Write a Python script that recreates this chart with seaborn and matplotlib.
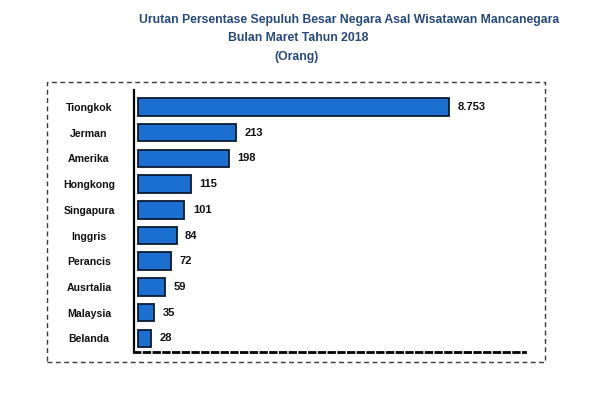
import numpy as np
import pandas as pd
import matplotlib
matplotlib.use("Agg")
import matplotlib.pyplot as plt
from matplotlib.patches import Rectangle
import seaborn as sns

countries = ["Tiongkok", "Jerman", "Amerika", "Hongkong", "Singapura",
             "Inggris", "Perancis", "Ausrtalia", "Malaysia", "Belanda"]
visitors = [8753, 213, 198, 115, 101, 84, 72, 59, 35, 28]
title_lines = ["Urutan Persentase Sepuluh Besar Negara Asal Wisatawan Mancanegara",
               "Bulan Maret Tahun 2018",
               "(Orang)"]

df = pd.DataFrame({"negara": countries, "orang": visitors})

sns.set_theme(style="white")
plt.rcParams["font.family"] = ["Liberation Sans", "DejaVu Sans"]

W, H = 600, 400
fig = plt.figure(figsize=(6, 4), dpi=100)
fig.patch.set_facecolor("white")
ax = fig.add_axes([134 / W, 48 / H, 391 / W, 262 / H])

sns.barplot(data=df, y="negara", x="orang", orient="h", color="#1b6fd0",
            saturation=1, edgecolor="#081a33", linewidth=1.3, width=0.68,
            ax=ax)

# broken-style scale: linear for small counts, compressed for the largest one
ax.set_xscale("symlog", linthresh=290, linscale=1)
ax.set_xlim(-8.7, 37640)
ax.set_ylim(9.53, -0.66)

for i, v in enumerate(visitors):
    lbl = f"{v:,}".replace(",", ".")
    ax.annotate(lbl, xy=(v, i), xytext=(6, 0), textcoords="offset points",
                ha="left", va="center", fontsize=8, fontweight="bold",
                color="#111111")

ax.set_xlabel("")
ax.set_ylabel("")
ax.set_xticks([])
ax.tick_params(axis="y", length=0, pad=32.4, labelsize=7.6)
for t in ax.get_yticklabels():
    t.set_ha("center")
    t.set_fontweight("bold")
    t.set_color("#111111")

for s in ["top", "right"]:
    ax.spines[s].set_visible(False)
ax.spines["left"].set_color("black")
ax.spines["left"].set_linewidth(1.6)
ax.spines["bottom"].set_color("black")
ax.spines["bottom"].set_linewidth(2.0)
ax.spines["bottom"].set_linestyle((0, (2.0, 1.5)))

box = Rectangle((47 / W, 1 - 362 / H), (545 - 47) / W, (362 - 82) / H,
                transform=fig.transFigure, fill=False, linestyle=(0, (3.5, 2.5)),
                linewidth=1.0, edgecolor="#3a3a3a")
fig.patches.append(box)

title_pos = [(349.5, 20), (298.5, 38), (296.5, 57)]
for txt, (x, y) in zip(title_lines, title_pos):
    fig.text(x / W, 1 - y / H, txt, ha="center", va="center", fontsize=8.8,
             fontweight="bold", color="#27497d")

fig.savefig("out.png", dpi=100, facecolor="white")
